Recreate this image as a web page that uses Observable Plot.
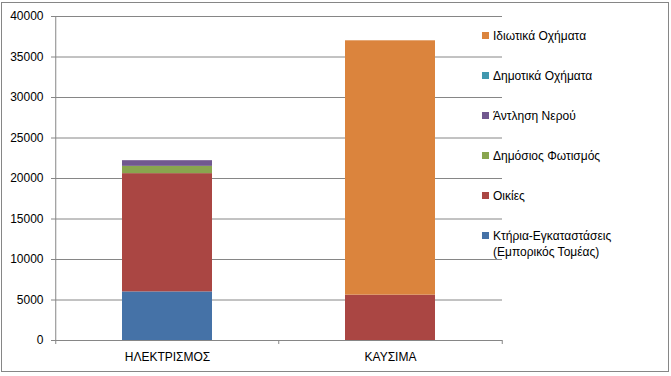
<!DOCTYPE html>
<html>
<head>
<meta charset="utf-8">
<script src="https://cdn.jsdelivr.net/npm/d3@7"></script>
<script src="https://cdn.jsdelivr.net/npm/@observablehq/plot@0.6"></script>
<style>
  html, body { margin: 0; padding: 0; background: #fff; }
  #chart { position: relative; width: 671px; height: 376px; font-family: "Liberation Sans", Arial, sans-serif; }
  #chart svg { position: absolute; left: 0; top: 0; }
  #frame { position: absolute; left: 1px; top: 2px; width: 668px; height: 370px; border: 1px solid #868686; box-sizing: border-box; pointer-events: none; }
  #legend { position: absolute; left: 482px; top: 0; font-size: 12px; color: #000; }
  .item { position: absolute; left: 0; white-space: nowrap; line-height: 16px; }
  .sw { position: absolute; left: 0; top: 4px; width: 7px; height: 7px; }
  .lbl { position: absolute; left: 11px; top: 0; }
</style>
</head>
<body>
<div id="chart"><div id="frame"></div><div id="legend"></div></div>
<script>
const categories = ["ΗΛΕΚΤΡΙΣΜΟΣ", "ΚΑΥΣΙΜΑ"];
const series = [
  "Κτήρια-Εγκαταστάσεις (Εμπορικός Τομέας)",
  "Οικίες",
  "Δημόσιος Φωτισμός",
  "Άντληση Νερού",
  "Δημοτικά Οχήματα",
  "Ιδιωτικά Οχήματα"
];
const electricityValues = [6000, 14600, 900, 700, 0, 0];
const fuelValues = [0, 5600, 0, 0, 0, 31400];
const seriesColors = ["#4572A7", "#AA4643", "#89A54E", "#71588F", "#4198AF", "#DB843D"];
const yTicks = [0, 5000, 10000, 15000, 20000, 25000, 30000, 35000, 40000];

const W = 671, H = 376;
const mL = 55, mR = 169, mT = 16, mB = 36;
const step = (W - mL - mR) / categories.length;

const rows = [];
series.forEach((s, i) => {
  rows.push({category: categories[0], series: s, value: electricityValues[i]});
  rows.push({category: categories[1], series: s, value: fuelValues[i]});
});

const axisColor = "#868686";
const plot = Plot.plot({
  width: W, height: H,
  marginLeft: mL, marginRight: mR, marginTop: mT, marginBottom: mB,
  style: {fontFamily: "Liberation Sans, Arial, sans-serif", fontSize: "12px", color: "#000", background: "transparent", overflow: "visible"},
  x: {domain: categories, paddingInner: 0.597, paddingOuter: 0.2985, axis: null},
  y: {domain: [0, 40000], axis: null},
  color: {domain: series, range: seriesColors},
  marks: [
    Plot.gridY(yTicks, {stroke: axisColor, strokeOpacity: 1}),
    Plot.barY(rows, {x: "category", y: "value", fill: "series", order: series}),
    Plot.ruleY([0], {stroke: axisColor}),
    Plot.ruleX([categories[0]], {dx: -step / 2, y1: 0, y2: 40000, stroke: axisColor}),
    Plot.axisY(yTicks, {tickSize: 4, tickPadding: 8, tickFormat: d => String(d), label: null, stroke: axisColor, fill: "#000", strokeOpacity: 1}),
    Plot.axisX({tickSize: 0, tickPadding: 12, label: null, fill: "#000"}),
    Plot.axisX({tickSize: 4, dx: -step / 2, tickFormat: () => "", label: null, stroke: axisColor, strokeOpacity: 1}),
    Plot.axisX([categories[categories.length - 1]], {tickSize: 4, dx: step / 2, tickFormat: () => "", label: null, stroke: axisColor, strokeOpacity: 1})
  ]
});
document.getElementById("chart").insertBefore(plot, document.getElementById("frame"));

// Legend (top series first)
const legend = document.getElementById("legend");
const order = series.map((s, i) => i).reverse();
order.forEach((idx, k) => {
  const item = document.createElement("div");
  item.className = "item";
  item.style.top = (28 + k * 40) + "px";
  const sw = document.createElement("div");
  sw.className = "sw";
  sw.style.background = seriesColors[idx];
  const lbl = document.createElement("div");
  lbl.className = "lbl";
  lbl.innerHTML = series[idx].replace(" (", "<br>(");
  item.appendChild(sw);
  item.appendChild(lbl);
  legend.appendChild(item);
});
</script>
</body>
</html>
